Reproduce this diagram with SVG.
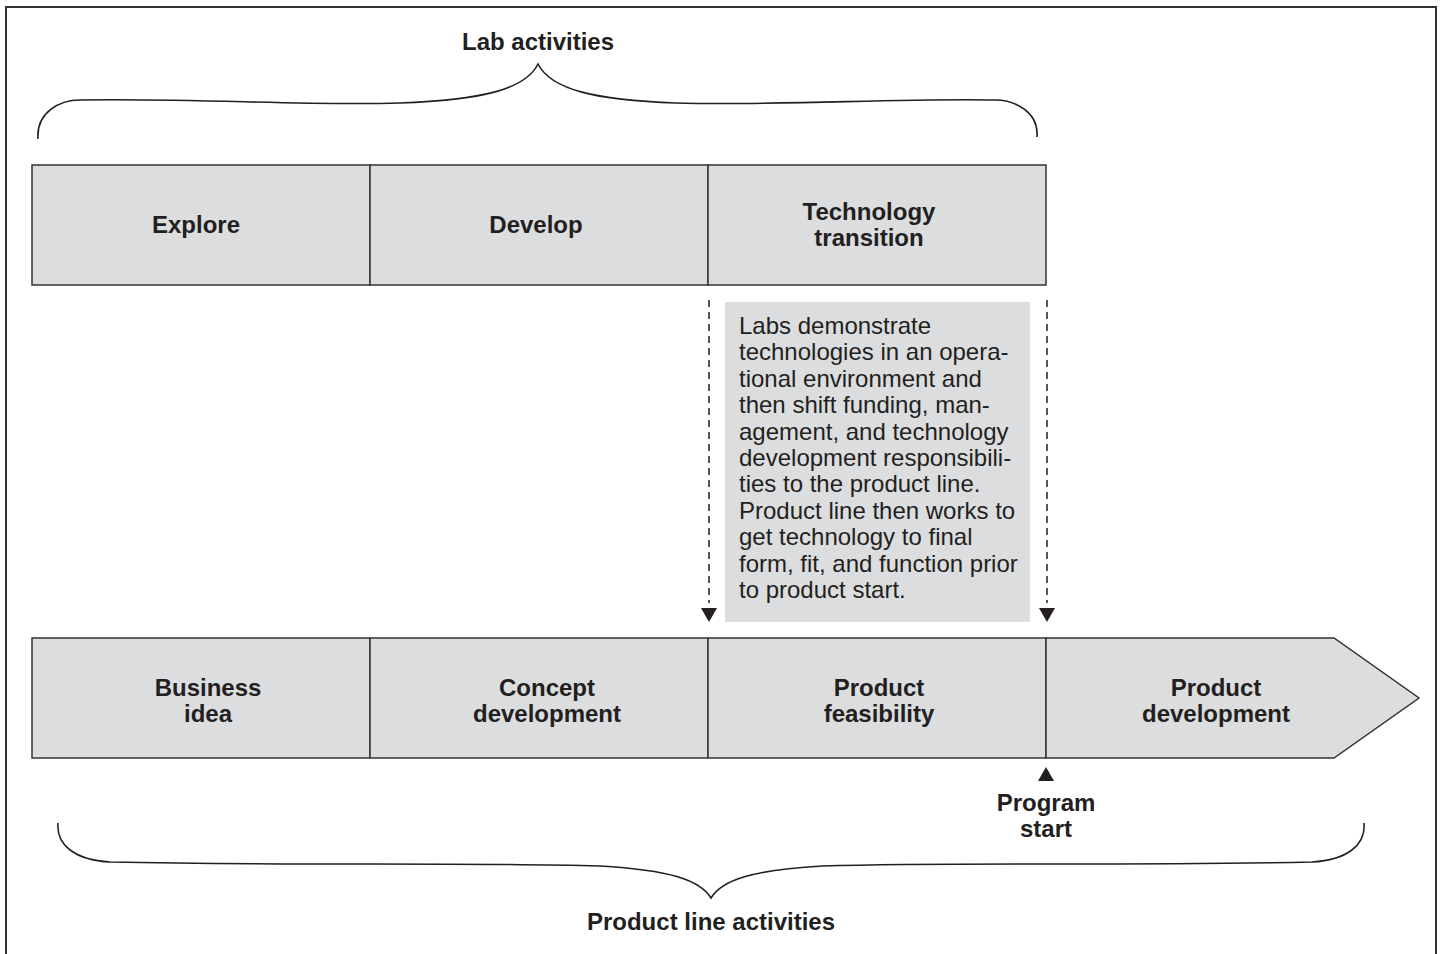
<svg xmlns="http://www.w3.org/2000/svg" width="1449" height="954" viewBox="0 0 1449 954">
<style>
.box{fill:#dcdddf;stroke:#333;stroke-width:1.5}
.lbl{font-family:"Liberation Sans",Arial,sans-serif;font-weight:bold;font-size:24px;fill:#231f20;text-anchor:middle}
.body{font-family:"Liberation Sans",Arial,sans-serif;font-size:24px;fill:#231f20}
.brace{fill:none;stroke:#231f20;stroke-width:1.6}
.dash{stroke:#231f20;stroke-width:1.5;stroke-dasharray:7,5;fill:none}
.tri{fill:#231f20}
</style>
<rect width="1449" height="954" fill="#fff"/>
<rect x="6" y="7" width="1430" height="960" fill="none" stroke="#333" stroke-width="2"/>

<g id="lab-brace">
<path class="brace" d="M38,139 C36,112 60,100 80,100 C200,98 300,106 400,103 C480,100 525,90 538,64 C551,90 596,100 676,103 C776,106 900,98 995,100 C1015,100 1039,112 1037,137"/>
<text class="lbl" x="538" y="50">Lab activities</text>
</g>

<g id="explore">
<rect class="box" x="32" y="165" width="338" height="120"/>
<text class="lbl" x="196" y="233">Explore</text>
</g>
<g id="develop">
<rect class="box" x="370" y="165" width="338" height="120"/>
<text class="lbl" x="536" y="233">Develop</text>
</g>
<g id="tech-transition">
<rect class="box" x="708" y="165" width="338" height="120"/>
<text class="lbl" x="869" y="220">Technology</text>
<text class="lbl" x="869" y="246">transition</text>
</g>

<g id="note">
<rect x="725" y="302" width="305" height="320" fill="#dcdddf"/>
<text class="body">
<tspan x="739" y="334">Labs demonstrate</tspan>
<tspan x="739" y="360.4">technologies in an opera-</tspan>
<tspan x="739" y="386.8">tional environment and</tspan>
<tspan x="739" y="413.2">then shift funding, man-</tspan>
<tspan x="739" y="439.6">agement, and technology</tspan>
<tspan x="739" y="466">development responsibili-</tspan>
<tspan x="739" y="492.4">ties to the product line.</tspan>
<tspan x="739" y="518.8">Product line then works to</tspan>
<tspan x="739" y="545.2">get technology to final</tspan>
<tspan x="739" y="571.6">form, fit, and function prior</tspan>
<tspan x="739" y="598">to product start.</tspan>
</text>
</g>

<g id="business-idea">
<rect class="box" x="32" y="638" width="338" height="120"/>
<text class="lbl" x="208" y="696">Business</text>
<text class="lbl" x="208" y="722">idea</text>
</g>
<g id="concept-development">
<rect class="box" x="370" y="638" width="338" height="120"/>
<text class="lbl" x="547" y="696">Concept</text>
<text class="lbl" x="547" y="722">development</text>
</g>
<g id="product-feasibility">
<rect class="box" x="708" y="638" width="338" height="120"/>
<text class="lbl" x="879" y="696">Product</text>
<text class="lbl" x="879" y="722">feasibility</text>
</g>
<g id="product-development">
<path class="box" d="M1046,638 H1334 L1419,698 L1334,758 H1046 Z"/>
<text class="lbl" x="1216" y="696">Product</text>
<text class="lbl" x="1216" y="722">development</text>
</g>

<g id="connectors">
<line class="dash" x1="709" y1="300" x2="709" y2="603"/>
<path class="tri" d="M701,608 H717 L709,622 Z"/>
<line class="dash" x1="1047" y1="300" x2="1047" y2="603"/>
<path class="tri" d="M1039,608 H1055 L1047,622 Z"/>
</g>

<g id="program-start">
<path class="tri" d="M1046,767 L1054,781 H1038 Z"/>
<text class="lbl" x="1046" y="811">Program</text>
<text class="lbl" x="1046" y="837">start</text>
</g>

<g id="product-line-brace">
<path class="brace" d="M58,823 C56,845 75,860 110,862 C300,866 450,862 600,866 C670,870 700,880 711,898 C722,880 752,870 822,866 C972,862 1122,866 1312,862 C1347,860 1366,845 1364,823"/>
<text class="lbl" x="711" y="930">Product line activities</text>
</g>
</svg>
